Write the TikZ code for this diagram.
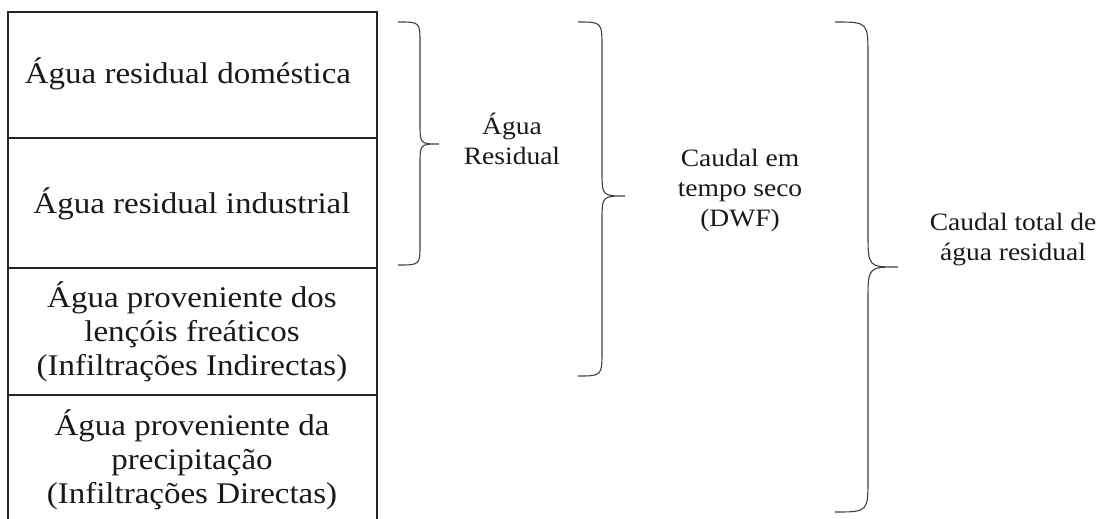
\documentclass[tikz,border=0pt]{standalone}
\usepackage{fontspec}
\setmainfont{Liberation Serif}
\newfontfamily\boxfont[FakeStretch=1.1]{Liberation Serif}
\newfontfamily\brfont[FakeStretch=1.1]{Liberation Serif}
\newcommand\mybrace[7]{% xend, xvert, xtip, ytop, ytip, ybot, h
  \draw[bracestyle] (#1,#4) .. controls (#2,#4) .. ({#2},{#4+#7})
    -- ({#2},{#5-#7}) .. controls (#2,#5) .. (#3,#5)
    .. controls (#2,#5) .. ({#2},{#5+#7})
    -- ({#2},{#6-#7}) .. controls (#2,#6) .. (#1,#6);}
\tikzset{
  boxline/.style={line width=1.2pt, draw=black!85},
  bracestyle/.style={line width=1.1pt, draw=black!75},
  boxtext/.style={align=center, inner sep=0pt, text=black!90,
    font=\boxfont\fontsize{30}{34}\selectfont},
  brtext/.style={align=center, inner sep=0pt, text=black!90,
    font=\brfont\fontsize{25}{30}\selectfont},
}
\begin{document}
\begin{tikzpicture}[x=1pt,y=-1pt]
\useasboundingbox (0,0) rectangle (1101,519);
% table
\draw[boxline] (8,525) -- (8,12) -- (377,12) -- (377,525);
\draw[boxline] (8,138) -- (377,138);
\draw[boxline] (8,268) -- (377,268);
\draw[boxline] (8,395) -- (377,395);
\node[boxtext] (t1) at (188,74) {Água residual doméstica};
\node[boxtext] (t2) at (192,204) {Água residual industrial};
\node[boxtext] (t3) at (192,332) {Água proveniente dos\\lençóis freáticos\\(Infiltrações Indirectas)};
\node[boxtext] (t4) at (192,460) {Água proveniente da\\precipitação\\(Infiltrações Directas)};
% braces
\mybrace{398}{420}{439}{22}{144}{265}{21}
\mybrace{578}{602}{625}{22}{196}{376}{26}
\mybrace{835}{868}{898}{22}{267}{512}{34}
% labels
\node[brtext] (l1) at (512,139) {Água\\Residual};
\node[brtext] (l2) at (740,190) {Caudal em\\tempo seco\\(DWF)};
\node[brtext] (l3) at (1013,240) {Caudal total de\\água residual};
\end{tikzpicture}
\end{document}
